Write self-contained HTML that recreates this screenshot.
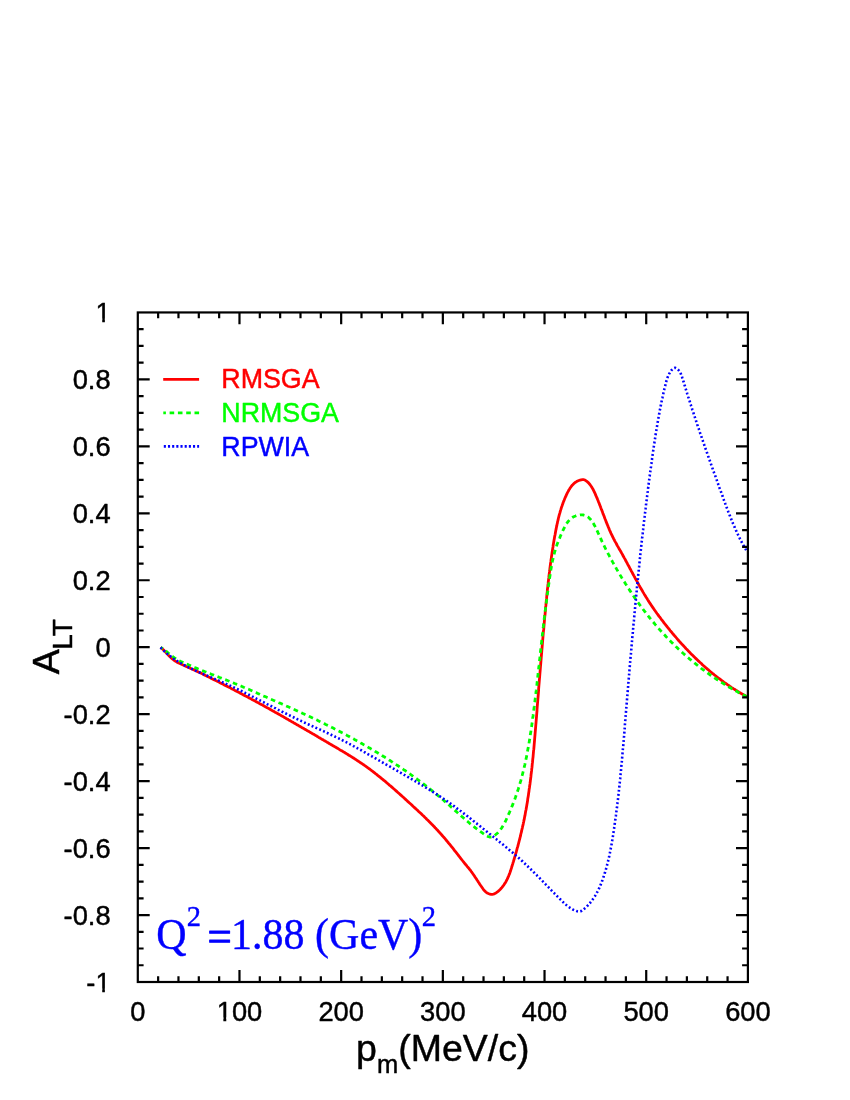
<!DOCTYPE html>
<html><head><meta charset="utf-8"><title>A_LT</title>
<style>
html,body{margin:0;padding:0;background:#fff;}
svg{display:block;}
text{font-family:"Liberation Sans",sans-serif;fill:#000;stroke:#000;stroke-width:0.45px;stroke-linejoin:round;}
.t{font-size:27.3px;}
.s{font-family:"Liberation Serif",serif;fill:#00f;stroke:#00f;stroke-width:0.4px;}
</style></head><body>
<svg width="850" height="1100" viewBox="0 0 850 1100" style="will-change:transform">
<g fill="none" stroke-width="2.8" stroke-linejoin="round">
<path stroke="#ff0000" d="M160.6 647.4L161.5 648.1L162.4 648.9L163.3 649.7L164.1 650.5L165.0 651.4L165.8 652.3L166.6 653.2L167.5 654.1L168.3 655.0L169.2 655.9L170.0 656.7L170.9 657.6L171.8 658.4L172.7 659.2L173.7 660.0L174.6 660.6L175.6 661.3L176.6 661.9L177.7 662.5L178.7 663.1L179.8 663.6L180.9 664.1L182.0 664.6L183.1 665.1L184.2 665.6L185.3 666.1L186.4 666.5L187.5 667.0L188.6 667.5L189.7 668.0L190.8 668.5L191.9 669.0L193.0 669.5L194.1 670.0L195.2 670.5L196.3 671.0L197.3 671.5L198.4 672.1L199.5 672.6L200.6 673.1L201.7 673.6L202.8 674.1L203.8 674.7L204.9 675.2L206.0 675.7L207.1 676.2L208.1 676.8L209.2 677.3L210.3 677.8L211.4 678.4L212.5 678.9L213.5 679.4L214.6 680.0L215.7 680.5L216.8 681.0L217.8 681.6L218.9 682.1L220.0 682.7L221.0 683.2L222.1 683.8L223.2 684.3L224.3 684.9L225.3 685.4L226.4 685.9L227.5 686.5L228.5 687.0L229.6 687.6L230.7 688.1L231.7 688.7L232.8 689.3L233.9 689.8L234.9 690.4L236.0 690.9L237.1 691.5L238.1 692.0L239.2 692.6L240.3 693.2L241.3 693.7L242.4 694.3L243.5 694.9L244.5 695.4L245.6 696.0L246.6 696.5L247.7 697.1L248.8 697.7L249.8 698.3L250.9 698.8L251.9 699.4L253.0 700.0L254.1 700.5L255.1 701.1L256.2 701.7L257.2 702.3L258.3 702.8L259.3 703.4L260.4 704.0L261.4 704.6L262.5 705.1L263.6 705.7L264.6 706.3L265.7 706.9L266.7 707.5L267.8 708.1L268.8 708.6L269.9 709.2L270.9 709.8L272.0 710.4L273.0 711.0L274.1 711.6L275.1 712.2L276.2 712.7L277.2 713.3L278.3 713.9L279.3 714.5L280.4 715.1L281.4 715.7L282.5 716.3L283.5 716.9L284.5 717.5L285.6 718.1L286.6 718.7L287.7 719.3L288.7 719.9L289.8 720.5L290.8 721.1L291.8 721.7L292.9 722.3L293.9 722.9L295.0 723.5L296.0 724.1L297.0 724.7L298.1 725.3L299.1 725.9L300.2 726.5L301.2 727.1L302.2 727.7L303.3 728.3L304.3 728.9L305.4 729.5L306.4 730.1L307.4 730.7L308.5 731.3L309.5 731.9L310.5 732.5L311.6 733.1L312.6 733.7L313.7 734.3L314.7 734.9L315.7 735.5L316.8 736.1L317.8 736.8L318.8 737.4L319.9 738.0L320.9 738.6L321.9 739.2L323.0 739.8L324.0 740.4L325.1 741.0L326.1 741.6L327.1 742.2L328.2 742.8L329.2 743.5L330.2 744.1L331.3 744.7L332.3 745.3L333.4 745.9L334.4 746.5L335.4 747.1L336.5 747.7L337.5 748.3L338.5 748.9L339.6 749.6L340.6 750.2L341.7 750.8L342.7 751.4L343.7 752.0L344.8 752.6L345.8 753.3L346.8 753.9L347.8 754.5L348.9 755.2L349.9 755.8L350.9 756.4L351.9 757.1L353.0 757.7L354.0 758.3L355.0 759.0L356.0 759.6L357.0 760.3L358.0 761.0L359.0 761.6L360.0 762.3L361.0 763.0L362.0 763.6L363.0 764.3L364.0 765.0L364.9 765.7L365.9 766.4L366.9 767.1L367.9 767.8L368.8 768.5L369.8 769.2L370.8 770.0L371.7 770.7L372.7 771.4L373.6 772.1L374.6 772.9L375.5 773.6L376.5 774.3L377.4 775.1L378.3 775.8L379.3 776.6L380.2 777.3L381.1 778.1L382.1 778.9L383.0 779.6L383.9 780.4L384.9 781.2L385.8 781.9L386.7 782.7L387.6 783.5L388.5 784.3L389.4 785.1L390.4 785.8L391.3 786.6L392.2 787.4L393.1 788.2L394.0 789.0L394.9 789.8L395.8 790.6L396.7 791.4L397.6 792.2L398.5 793.0L399.4 793.8L400.3 794.6L401.2 795.4L402.1 796.2L403.0 797.0L403.9 797.8L404.7 798.6L405.6 799.4L406.5 800.2L407.4 801.1L408.3 801.9L409.2 802.7L410.1 803.5L411.0 804.3L411.9 805.1L412.7 805.9L413.6 806.8L414.5 807.6L415.4 808.4L416.3 809.2L417.2 810.0L418.0 810.8L418.9 811.7L419.8 812.5L420.7 813.3L421.5 814.1L422.4 815.0L423.3 815.8L424.1 816.6L425.0 817.5L425.9 818.3L426.7 819.2L427.6 820.0L428.4 820.8L429.3 821.7L430.1 822.5L431.0 823.4L431.8 824.3L432.6 825.1L433.5 826.0L434.3 826.8L435.1 827.7L436.0 828.6L436.8 829.5L437.6 830.3L438.4 831.2L439.2 832.1L440.0 833.0L440.8 833.9L441.6 834.8L442.4 835.7L443.2 836.6L444.0 837.5L444.8 838.4L445.6 839.4L446.3 840.3L447.1 841.2L447.9 842.1L448.6 843.1L449.4 844.0L450.2 844.9L450.9 845.8L451.7 846.8L452.4 847.7L453.2 848.7L453.9 849.6L454.6 850.6L455.4 851.5L456.1 852.4L456.9 853.4L457.6 854.3L458.3 855.3L459.1 856.2L459.8 857.2L460.5 858.1L461.3 859.1L462.0 860.0L462.8 861.0L463.5 861.9L464.3 862.9L465.0 863.8L465.8 864.7L466.6 865.7L467.3 866.6L468.1 867.5L468.9 868.4L469.6 869.4L470.4 870.3L471.1 871.3L471.8 872.2L472.5 873.2L473.2 874.2L473.9 875.2L474.6 876.2L475.2 877.2L475.9 878.2L476.6 879.2L477.2 880.2L477.9 881.2L478.5 882.2L479.2 883.2L479.8 884.2L480.5 885.3L481.2 886.3L481.9 887.3L482.6 888.3L483.3 889.3L484.0 890.2L484.9 891.1L485.8 892.0L486.7 892.7L487.8 893.3L488.9 893.8L490.0 894.2L491.1 894.4L492.2 894.3L493.3 894.1L494.3 893.8L495.4 893.2L496.4 892.6L497.4 891.9L498.4 891.1L499.3 890.3L500.2 889.4L501.0 888.5L501.8 887.6L502.6 886.6L503.3 885.7L504.0 884.7L504.7 883.6L505.4 882.6L506.0 881.6L506.5 880.5L507.1 879.4L507.6 878.3L508.1 877.2L508.6 876.1L509.0 875.0L509.5 873.9L509.9 872.8L510.3 871.6L510.7 870.5L511.0 869.4L511.4 868.2L511.7 867.1L512.1 866.0L512.4 864.8L512.8 863.7L513.1 862.5L513.5 861.4L513.8 860.2L514.2 859.1L514.5 857.9L514.8 856.8L515.2 855.6L515.5 854.5L515.8 853.3L516.2 852.2L516.5 851.0L516.8 849.8L517.1 848.7L517.4 847.5L517.8 846.4L518.1 845.2L518.4 844.0L518.7 842.9L519.0 841.7L519.3 840.5L519.6 839.4L519.9 838.2L520.2 837.0L520.5 835.9L520.7 834.7L521.0 833.5L521.3 832.3L521.6 831.2L521.8 830.0L522.1 828.8L522.4 827.6L522.6 826.5L522.9 825.3L523.2 824.1L523.4 822.9L523.7 821.8L523.9 820.6L524.2 819.4L524.4 818.2L524.6 817.0L524.9 815.9L525.1 814.7L525.3 813.5L525.5 812.3L525.7 811.1L526.0 810.0L526.2 808.8L526.4 807.6L526.6 806.4L526.8 805.2L527.0 804.0L527.2 802.9L527.4 801.7L527.6 800.5L527.7 799.3L527.9 798.1L528.1 796.9L528.3 795.7L528.5 794.6L528.6 793.4L528.8 792.2L529.0 791.0L529.1 789.8L529.3 788.6L529.5 787.4L529.6 786.2L529.8 785.0L530.0 783.9L530.1 782.7L530.3 781.5L530.4 780.3L530.6 779.1L530.7 777.9L530.9 776.7L531.0 775.5L531.1 774.3L531.3 773.1L531.4 771.9L531.6 770.7L531.7 769.5L531.8 768.4L532.0 767.2L532.1 766.0L532.2 764.8L532.3 763.6L532.5 762.4L532.6 761.2L532.7 760.0L532.8 758.8L533.0 757.6L533.1 756.4L533.2 755.2L533.3 754.0L533.4 752.8L533.5 751.6L533.6 750.4L533.8 749.2L533.9 748.0L534.0 746.8L534.1 745.6L534.2 744.4L534.3 743.2L534.4 742.0L534.5 740.8L534.6 739.6L534.7 738.4L534.8 737.2L534.9 736.0L535.0 734.8L535.1 733.6L535.2 732.4L535.3 731.2L535.4 730.0L535.5 728.8L535.6 727.6L535.7 726.4L535.8 725.2L535.9 724.0L536.0 722.8L536.1 721.6L536.2 720.4L536.3 719.2L536.4 718.0L536.5 716.8L536.6 715.6L536.7 714.4L536.8 713.2L536.9 712.0L537.0 710.8L537.0 709.6L537.1 708.4L537.2 707.2L537.3 706.0L537.4 704.8L537.5 703.6L537.6 702.4L537.7 701.2L537.8 700.0L537.9 698.8L538.0 697.6L538.1 696.5L538.2 695.3L538.3 694.1L538.4 692.9L538.5 691.7L538.6 690.5L538.6 689.3L538.7 688.1L538.8 686.9L538.9 685.7L539.0 684.5L539.1 683.3L539.2 682.1L539.3 680.9L539.4 679.7L539.5 678.5L539.6 677.3L539.7 676.1L539.8 674.9L539.9 673.7L540.0 672.5L540.1 671.3L540.2 670.1L540.3 668.9L540.4 667.7L540.5 666.5L540.6 665.3L540.7 664.1L540.8 662.9L540.9 661.7L541.0 660.5L541.1 659.3L541.2 658.1L541.3 656.9L541.4 655.7L541.5 654.5L541.6 653.3L541.7 652.1L541.8 650.9L541.9 649.7L542.0 648.6L542.1 647.4L542.2 646.2L542.3 645.0L542.4 643.8L542.5 642.6L542.6 641.4L542.7 640.2L542.8 639.0L542.9 637.8L543.0 636.6L543.1 635.4L543.2 634.2L543.3 633.0L543.4 631.8L543.5 630.6L543.7 629.4L543.8 628.2L543.9 627.0L544.0 625.8L544.1 624.6L544.2 623.4L544.3 622.2L544.4 621.0L544.5 619.8L544.6 618.6L544.7 617.4L544.8 616.2L545.0 615.0L545.1 613.8L545.2 612.6L545.3 611.4L545.4 610.2L545.5 609.0L545.6 607.8L545.7 606.6L545.9 605.4L546.0 604.2L546.1 603.0L546.2 601.8L546.3 600.6L546.4 599.4L546.6 598.2L546.7 597.0L546.8 595.8L546.9 594.6L547.0 593.4L547.2 592.3L547.3 591.1L547.4 589.9L547.5 588.7L547.7 587.5L547.8 586.3L547.9 585.1L548.1 583.9L548.2 582.7L548.3 581.5L548.5 580.3L548.6 579.1L548.8 577.9L548.9 576.7L549.0 575.5L549.2 574.3L549.3 573.1L549.5 571.9L549.6 570.7L549.8 569.5L549.9 568.3L550.1 567.1L550.2 566.0L550.4 564.8L550.5 563.6L550.7 562.4L550.9 561.2L551.0 560.0L551.2 558.8L551.4 557.6L551.5 556.4L551.7 555.2L551.9 554.1L552.0 552.9L552.2 551.7L552.4 550.5L552.6 549.3L552.8 548.1L553.0 546.9L553.1 545.8L553.3 544.6L553.5 543.4L553.7 542.2L553.9 541.0L554.1 539.8L554.3 538.7L554.5 537.5L554.7 536.3L555.0 535.1L555.2 533.9L555.4 532.8L555.6 531.6L555.8 530.4L556.1 529.2L556.3 528.1L556.5 526.9L556.8 525.7L557.0 524.5L557.3 523.4L557.5 522.2L557.8 521.0L558.1 519.9L558.3 518.7L558.6 517.5L558.9 516.4L559.2 515.2L559.5 514.1L559.9 512.9L560.2 511.7L560.5 510.6L560.9 509.4L561.2 508.3L561.6 507.1L562.0 506.0L562.4 504.8L562.8 503.7L563.2 502.6L563.6 501.4L564.1 500.3L564.5 499.2L565.0 498.0L565.5 496.9L566.0 495.8L566.5 494.7L567.0 493.6L567.6 492.4L568.2 491.4L568.7 490.3L569.4 489.2L570.0 488.2L570.7 487.2L571.4 486.2L572.2 485.3L573.0 484.5L573.8 483.6L574.7 482.9L575.6 482.2L576.6 481.6L577.7 481.0L578.8 480.5L580.0 480.2L581.2 479.9L582.4 479.7L583.6 479.7L584.8 480.0L585.8 480.6L586.8 481.3L587.7 482.1L588.6 482.9L589.3 483.8L590.1 484.7L590.8 485.7L591.5 486.7L592.1 487.7L592.7 488.8L593.3 489.8L593.8 490.9L594.3 492.0L594.9 493.1L595.4 494.3L595.8 495.4L596.3 496.5L596.8 497.6L597.3 498.7L597.7 499.8L598.2 501.0L598.6 502.1L599.1 503.2L599.5 504.3L599.9 505.4L600.4 506.5L600.8 507.7L601.2 508.8L601.7 509.9L602.1 511.0L602.5 512.1L602.9 513.3L603.3 514.4L603.8 515.5L604.2 516.6L604.6 517.7L605.0 518.8L605.5 520.0L605.9 521.1L606.3 522.2L606.8 523.3L607.2 524.4L607.7 525.5L608.1 526.6L608.6 527.7L609.1 528.9L609.5 530.0L610.0 531.1L610.5 532.2L611.0 533.3L611.5 534.3L612.0 535.4L612.5 536.5L613.1 537.6L613.6 538.7L614.2 539.7L614.7 540.8L615.3 541.9L615.9 542.9L616.5 544.0L617.0 545.0L617.6 546.1L618.2 547.1L618.8 548.2L619.4 549.2L620.0 550.2L620.6 551.3L621.2 552.3L621.8 553.4L622.4 554.4L622.9 555.5L623.5 556.5L624.1 557.6L624.7 558.6L625.3 559.7L625.8 560.8L626.4 561.8L627.0 562.9L627.5 563.9L628.1 565.0L628.7 566.0L629.3 567.1L629.8 568.2L630.4 569.2L631.0 570.3L631.5 571.3L632.1 572.4L632.7 573.5L633.2 574.5L633.8 575.6L634.4 576.6L634.9 577.7L635.5 578.8L636.1 579.8L636.7 580.9L637.3 581.9L637.8 583.0L638.4 584.0L639.0 585.1L639.6 586.1L640.2 587.2L640.8 588.2L641.4 589.3L642.0 590.3L642.6 591.3L643.2 592.4L643.8 593.4L644.4 594.4L645.1 595.5L645.7 596.5L646.3 597.5L647.0 598.5L647.6 599.6L648.2 600.6L648.9 601.6L649.5 602.6L650.2 603.6L650.9 604.6L651.5 605.6L652.2 606.6L652.9 607.6L653.6 608.6L654.2 609.6L654.9 610.5L655.6 611.5L656.3 612.5L657.0 613.5L657.7 614.4L658.4 615.4L659.1 616.4L659.9 617.3L660.6 618.3L661.3 619.3L662.0 620.2L662.8 621.2L663.5 622.1L664.2 623.1L665.0 624.0L665.7 625.0L666.5 625.9L667.2 626.9L668.0 627.8L668.7 628.7L669.5 629.7L670.2 630.6L671.0 631.5L671.8 632.4L672.5 633.4L673.3 634.3L674.1 635.2L674.9 636.1L675.7 637.0L676.5 638.0L677.2 638.9L678.0 639.8L678.8 640.7L679.6 641.6L680.4 642.5L681.2 643.4L682.0 644.3L682.9 645.1L683.7 646.0L684.5 646.9L685.3 647.8L686.1 648.7L687.0 649.5L687.8 650.4L688.6 651.3L689.5 652.1L690.3 653.0L691.2 653.9L692.0 654.7L692.9 655.6L693.7 656.4L694.6 657.2L695.4 658.1L696.3 658.9L697.2 659.7L698.0 660.6L698.9 661.4L699.8 662.2L700.7 663.0L701.6 663.8L702.4 664.7L703.3 665.5L704.2 666.3L705.1 667.1L706.0 667.9L706.9 668.6L707.8 669.4L708.8 670.2L709.7 671.0L710.6 671.8L711.5 672.5L712.4 673.3L713.4 674.0L714.3 674.8L715.2 675.5L716.2 676.3L717.1 677.0L718.1 677.8L719.0 678.5L720.0 679.2L720.9 679.9L721.9 680.7L722.9 681.4L723.8 682.1L724.8 682.8L725.8 683.5L726.8 684.2L727.8 684.9L728.8 685.5L729.7 686.2L730.7 686.9L731.7 687.6L732.7 688.2L733.8 688.9L734.8 689.5L735.8 690.2L736.8 690.8L737.8 691.4L738.8 692.1L739.9 692.7L740.9 693.3L742.0 693.9L743.0 694.5L744.0 695.1L745.1 695.7L746.1 696.3L747.2 696.9"/>
<path stroke="#00ff00" stroke-dasharray="4.6 3.7" stroke-dashoffset="2" d="M160.6 647.4L161.6 648.0L162.6 648.6L163.6 649.3L164.6 650.0L165.5 650.8L166.5 651.5L167.4 652.3L168.3 653.1L169.3 653.9L170.2 654.7L171.2 655.4L172.1 656.2L173.1 656.9L174.1 657.6L175.1 658.3L176.1 658.9L177.1 659.5L178.2 660.1L179.2 660.6L180.3 661.2L181.4 661.7L182.5 662.2L183.5 662.7L184.6 663.2L185.7 663.6L186.8 664.1L187.9 664.6L189.0 665.1L190.1 665.5L191.2 666.0L192.3 666.5L193.4 666.9L194.6 667.4L195.7 667.9L196.8 668.3L197.9 668.8L199.0 669.2L200.1 669.7L201.2 670.1L202.3 670.6L203.4 671.0L204.6 671.5L205.7 671.9L206.8 672.4L207.9 672.8L209.0 673.3L210.2 673.7L211.3 674.2L212.4 674.6L213.5 675.0L214.6 675.5L215.7 675.9L216.9 676.4L218.0 676.8L219.1 677.3L220.2 677.7L221.3 678.1L222.5 678.6L223.6 679.0L224.7 679.5L225.8 679.9L226.9 680.3L228.1 680.8L229.2 681.2L230.3 681.7L231.4 682.1L232.5 682.6L233.6 683.0L234.7 683.5L235.9 683.9L237.0 684.4L238.1 684.8L239.2 685.3L240.3 685.8L241.4 686.2L242.5 686.7L243.6 687.2L244.7 687.6L245.8 688.1L246.9 688.6L248.0 689.1L249.1 689.5L250.2 690.0L251.3 690.5L252.4 691.0L253.5 691.5L254.6 692.0L255.7 692.5L256.8 692.9L257.9 693.4L259.0 693.9L260.1 694.4L261.2 694.9L262.3 695.4L263.4 695.9L264.5 696.4L265.6 696.8L266.7 697.3L267.8 697.8L268.9 698.3L270.0 698.8L271.1 699.3L272.2 699.8L273.3 700.2L274.4 700.7L275.5 701.2L276.6 701.7L277.7 702.2L278.8 702.7L279.9 703.1L281.0 703.6L282.1 704.1L283.2 704.6L284.3 705.1L285.4 705.6L286.5 706.1L287.6 706.5L288.7 707.0L289.8 707.5L290.9 708.0L292.0 708.5L293.1 709.0L294.2 709.5L295.3 710.0L296.4 710.5L297.5 711.0L298.6 711.5L299.7 712.0L300.8 712.5L301.9 713.0L302.9 713.5L304.0 714.0L305.1 714.5L306.2 715.0L307.3 715.5L308.4 716.0L309.5 716.5L310.6 717.0L311.7 717.6L312.7 718.1L313.8 718.6L314.9 719.1L316.0 719.6L317.1 720.1L318.2 720.7L319.2 721.2L320.3 721.7L321.4 722.2L322.5 722.8L323.5 723.3L324.6 723.8L325.7 724.4L326.8 724.9L327.9 725.4L328.9 726.0L330.0 726.5L331.1 727.1L332.1 727.6L333.2 728.1L334.3 728.7L335.3 729.2L336.4 729.8L337.5 730.3L338.5 730.9L339.6 731.4L340.7 732.0L341.7 732.6L342.8 733.1L343.9 733.7L344.9 734.2L346.0 734.8L347.0 735.4L348.1 735.9L349.2 736.5L350.2 737.1L351.3 737.7L352.3 738.2L353.4 738.8L354.4 739.4L355.5 740.0L356.5 740.6L357.6 741.1L358.6 741.7L359.7 742.3L360.7 742.9L361.8 743.5L362.8 744.1L363.8 744.7L364.9 745.3L365.9 745.9L367.0 746.5L368.0 747.1L369.0 747.7L370.1 748.3L371.1 748.9L372.2 749.5L373.2 750.1L374.2 750.8L375.2 751.4L376.3 752.0L377.3 752.6L378.3 753.2L379.4 753.9L380.4 754.5L381.4 755.1L382.4 755.8L383.5 756.4L384.5 757.0L385.5 757.7L386.5 758.3L387.5 759.0L388.6 759.6L389.6 760.3L390.6 760.9L391.6 761.6L392.6 762.2L393.6 762.9L394.6 763.5L395.6 764.2L396.6 764.9L397.6 765.5L398.6 766.2L399.6 766.9L400.6 767.5L401.6 768.2L402.6 768.9L403.6 769.6L404.6 770.2L405.6 770.9L406.6 771.6L407.6 772.3L408.6 773.0L409.5 773.7L410.5 774.4L411.5 775.1L412.5 775.8L413.5 776.5L414.4 777.2L415.4 777.9L416.4 778.6L417.3 779.3L418.3 780.0L419.3 780.8L420.2 781.5L421.2 782.2L422.2 782.9L423.1 783.7L424.1 784.4L425.0 785.1L426.0 785.8L426.9 786.6L427.9 787.3L428.8 788.1L429.7 788.8L430.7 789.6L431.6 790.3L432.6 791.1L433.5 791.8L434.4 792.6L435.3 793.3L436.3 794.1L437.2 794.9L438.1 795.6L439.0 796.4L440.0 797.2L440.9 797.9L441.8 798.7L442.7 799.5L443.6 800.3L444.5 801.1L445.4 801.9L446.3 802.7L447.2 803.4L448.1 804.2L449.0 805.0L449.9 805.8L450.8 806.6L451.7 807.4L452.6 808.2L453.5 809.0L454.3 809.8L455.2 810.6L456.1 811.4L457.0 812.2L457.9 813.0L458.8 813.8L459.7 814.6L460.6 815.4L461.5 816.2L462.4 817.0L463.3 817.8L464.2 818.6L465.1 819.4L466.0 820.2L467.0 821.0L467.9 821.7L468.8 822.5L469.7 823.3L470.7 824.1L471.6 824.8L472.6 825.6L473.5 826.4L474.5 827.1L475.4 827.9L476.4 828.6L477.4 829.3L478.3 830.1L479.3 830.8L480.3 831.5L481.3 832.2L482.3 832.9L483.3 833.6L484.3 834.3L485.4 835.0L486.4 835.7L487.4 836.2L488.5 836.7L489.5 837.0L490.6 837.1L491.6 837.0L492.6 836.6L493.6 836.1L494.6 835.5L495.5 834.8L496.4 834.0L497.3 833.2L498.1 832.4L498.9 831.5L499.7 830.6L500.4 829.7L501.1 828.7L501.8 827.7L502.4 826.7L503.1 825.6L503.7 824.6L504.3 823.5L504.9 822.4L505.4 821.3L506.0 820.1L506.5 819.0L507.0 817.9L507.5 816.8L508.0 815.6L508.5 814.5L509.0 813.4L509.5 812.3L510.0 811.1L510.5 810.0L511.0 808.9L511.4 807.8L511.9 806.7L512.3 805.6L512.8 804.4L513.2 803.3L513.6 802.2L514.1 801.1L514.5 800.0L514.9 798.9L515.3 797.8L515.7 796.6L516.1 795.5L516.5 794.4L516.9 793.3L517.3 792.1L517.7 791.0L518.0 789.9L518.4 788.7L518.7 787.6L519.1 786.5L519.4 785.3L519.8 784.2L520.1 783.0L520.4 781.9L520.8 780.7L521.1 779.6L521.4 778.4L521.7 777.3L522.0 776.1L522.3 775.0L522.6 773.8L522.9 772.6L523.2 771.5L523.5 770.3L523.8 769.1L524.1 768.0L524.3 766.8L524.6 765.6L524.9 764.5L525.1 763.3L525.4 762.1L525.6 760.9L525.9 759.8L526.1 758.6L526.4 757.4L526.6 756.2L526.8 755.0L527.1 753.8L527.3 752.7L527.5 751.5L527.7 750.3L527.9 749.1L528.2 747.9L528.4 746.7L528.6 745.5L528.8 744.4L529.0 743.2L529.2 742.0L529.4 740.8L529.6 739.6L529.8 738.4L530.0 737.2L530.2 736.0L530.3 734.8L530.5 733.6L530.7 732.4L530.9 731.3L531.1 730.1L531.2 728.9L531.4 727.7L531.6 726.5L531.8 725.3L531.9 724.1L532.1 722.9L532.3 721.7L532.4 720.5L532.6 719.3L532.7 718.1L532.9 716.9L533.1 715.7L533.2 714.6L533.4 713.4L533.5 712.2L533.7 711.0L533.8 709.8L534.0 708.6L534.1 707.4L534.3 706.2L534.4 705.0L534.6 703.8L534.7 702.6L534.9 701.5L535.0 700.3L535.2 699.1L535.3 697.9L535.5 696.7L535.6 695.5L535.7 694.3L535.9 693.1L536.0 691.9L536.2 690.7L536.3 689.5L536.4 688.4L536.6 687.2L536.7 686.0L536.9 684.8L537.0 683.6L537.1 682.4L537.3 681.2L537.4 680.0L537.5 678.8L537.7 677.6L537.8 676.4L537.9 675.2L538.1 674.1L538.2 672.9L538.3 671.7L538.4 670.5L538.6 669.3L538.7 668.1L538.8 666.9L539.0 665.7L539.1 664.5L539.2 663.3L539.4 662.1L539.5 660.9L539.6 659.7L539.8 658.5L539.9 657.3L540.0 656.1L540.1 654.9L540.3 653.7L540.4 652.5L540.5 651.3L540.7 650.1L540.8 649.0L540.9 647.8L541.1 646.6L541.2 645.4L541.3 644.2L541.5 643.0L541.6 641.8L541.7 640.6L541.9 639.4L542.0 638.2L542.1 637.0L542.3 635.8L542.4 634.6L542.5 633.4L542.7 632.2L542.8 631.0L542.9 629.8L543.1 628.6L543.2 627.4L543.4 626.2L543.5 625.0L543.6 623.8L543.8 622.6L543.9 621.5L544.1 620.3L544.2 619.1L544.3 617.9L544.5 616.7L544.6 615.5L544.8 614.3L544.9 613.1L545.1 611.9L545.2 610.7L545.4 609.5L545.5 608.3L545.7 607.2L545.8 606.0L546.0 604.8L546.1 603.6L546.3 602.4L546.5 601.2L546.6 600.0L546.8 598.8L546.9 597.6L547.1 596.5L547.2 595.3L547.4 594.1L547.6 592.9L547.7 591.7L547.9 590.5L548.1 589.3L548.2 588.1L548.4 586.9L548.5 585.7L548.7 584.6L548.9 583.4L549.0 582.2L549.2 581.0L549.4 579.8L549.5 578.6L549.7 577.4L549.9 576.2L550.1 575.0L550.2 573.8L550.4 572.6L550.6 571.4L550.8 570.2L551.0 569.0L551.2 567.9L551.4 566.7L551.6 565.5L551.8 564.3L552.1 563.1L552.3 561.9L552.5 560.8L552.8 559.6L553.1 558.4L553.3 557.2L553.6 556.1L553.9 554.9L554.2 553.8L554.5 552.6L554.8 551.5L555.2 550.3L555.5 549.2L555.9 548.0L556.2 546.9L556.6 545.8L557.0 544.6L557.4 543.5L557.9 542.4L558.3 541.3L558.7 540.2L559.2 539.1L559.7 538.0L560.1 536.8L560.6 535.7L561.1 534.6L561.6 533.5L562.1 532.4L562.6 531.3L563.1 530.2L563.6 529.1L564.2 528.0L564.7 526.9L565.3 525.8L565.9 524.8L566.5 523.7L567.2 522.7L567.9 521.8L568.7 520.9L569.5 520.0L570.3 519.1L571.2 518.4L572.2 517.7L573.2 517.0L574.3 516.5L575.5 516.0L576.6 515.5L577.8 515.2L579.0 515.0L580.2 514.8L581.3 514.8L582.5 514.8L583.6 515.0L584.7 515.3L585.8 515.7L586.8 516.2L587.8 516.8L588.7 517.5L589.6 518.4L590.4 519.2L591.2 520.2L592.0 521.2L592.7 522.3L593.4 523.4L594.0 524.5L594.6 525.6L595.2 526.7L595.8 527.8L596.3 528.9L596.8 530.0L597.3 531.1L597.8 532.2L598.3 533.3L598.8 534.3L599.3 535.4L599.7 536.5L600.2 537.6L600.7 538.6L601.2 539.7L601.7 540.8L602.2 541.9L602.7 542.9L603.3 544.0L603.8 545.1L604.3 546.1L604.8 547.2L605.4 548.3L605.9 549.3L606.5 550.4L607.0 551.5L607.6 552.5L608.1 553.6L608.7 554.7L609.2 555.7L609.8 556.8L610.4 557.8L610.9 558.9L611.5 560.0L612.1 561.0L612.7 562.1L613.3 563.1L613.8 564.2L614.4 565.2L615.0 566.3L615.6 567.3L616.2 568.3L616.8 569.4L617.4 570.4L618.0 571.5L618.6 572.5L619.3 573.5L619.9 574.6L620.5 575.6L621.1 576.6L621.7 577.7L622.4 578.7L623.0 579.7L623.6 580.8L624.3 581.8L624.9 582.8L625.5 583.8L626.2 584.8L626.8 585.8L627.5 586.9L628.1 587.9L628.8 588.9L629.4 589.9L630.1 590.9L630.8 591.9L631.4 592.9L632.1 593.9L632.8 594.9L633.5 595.9L634.1 596.9L634.8 597.9L635.5 598.8L636.2 599.8L636.9 600.8L637.6 601.8L638.3 602.8L639.0 603.8L639.7 604.7L640.4 605.7L641.1 606.7L641.8 607.6L642.6 608.6L643.3 609.6L644.0 610.5L644.7 611.5L645.5 612.4L646.2 613.4L647.0 614.3L647.7 615.3L648.4 616.2L649.2 617.1L649.9 618.1L650.7 619.0L651.5 620.0L652.2 620.9L653.0 621.8L653.8 622.7L654.5 623.6L655.3 624.6L656.1 625.5L656.9 626.4L657.6 627.3L658.4 628.2L659.2 629.1L660.0 630.0L660.8 630.9L661.6 631.8L662.4 632.7L663.2 633.6L664.1 634.5L664.9 635.3L665.7 636.2L666.5 637.1L667.3 638.0L668.2 638.8L669.0 639.7L669.8 640.5L670.7 641.4L671.5 642.3L672.4 643.1L673.2 643.9L674.1 644.8L675.0 645.6L675.8 646.5L676.7 647.3L677.6 648.1L678.4 649.0L679.3 649.8L680.2 650.6L681.1 651.4L682.0 652.2L682.8 653.0L683.7 653.8L684.6 654.6L685.5 655.4L686.4 656.2L687.3 657.0L688.3 657.8L689.2 658.6L690.1 659.3L691.0 660.1L691.9 660.9L692.9 661.7L693.8 662.4L694.7 663.2L695.7 663.9L696.6 664.7L697.5 665.4L698.5 666.2L699.4 666.9L700.4 667.6L701.3 668.4L702.3 669.1L703.3 669.8L704.2 670.5L705.2 671.3L706.2 672.0L707.1 672.7L708.1 673.4L709.1 674.1L710.1 674.8L711.1 675.5L712.0 676.1L713.0 676.8L714.0 677.5L715.0 678.2L716.0 678.8L717.0 679.5L718.0 680.2L719.0 680.8L720.0 681.5L721.1 682.1L722.1 682.8L723.1 683.4L724.1 684.0L725.1 684.7L726.2 685.3L727.2 685.9L728.2 686.5L729.3 687.2L730.3 687.8L731.3 688.4L732.4 689.0L733.4 689.6L734.5 690.2L735.5 690.7L736.6 691.3L737.6 691.9L738.7 692.5L739.7 693.0L740.8 693.6L741.8 694.2L742.9 694.7L744.0 695.3L745.1 695.8L746.1 696.4L747.2 696.9"/>
<path stroke="#0000ff" stroke-width="2.6" stroke-dasharray="1.9 2.27" d="M160.6 647.4L161.4 648.3L162.3 649.2L163.1 650.0L164.0 650.9L164.9 651.7L165.8 652.5L166.7 653.3L167.6 654.1L168.5 654.9L169.4 655.6L170.4 656.3L171.3 657.1L172.3 657.8L173.3 658.5L174.3 659.1L175.3 659.8L176.3 660.5L177.3 661.1L178.3 661.7L179.3 662.3L180.4 662.9L181.4 663.5L182.4 664.1L183.5 664.7L184.5 665.3L185.6 665.8L186.7 666.4L187.7 666.9L188.8 667.5L189.9 668.0L190.9 668.5L192.0 669.0L193.1 669.5L194.2 670.0L195.3 670.5L196.4 671.0L197.5 671.5L198.6 672.0L199.7 672.5L200.8 673.0L201.9 673.5L203.0 673.9L204.1 674.4L205.2 674.9L206.3 675.3L207.4 675.8L208.5 676.3L209.6 676.7L210.7 677.2L211.9 677.7L213.0 678.1L214.1 678.6L215.2 679.1L216.3 679.5L217.4 680.0L218.5 680.5L219.6 680.9L220.7 681.4L221.8 681.9L222.9 682.4L224.0 682.9L225.1 683.4L226.2 683.9L227.3 684.4L228.4 684.9L229.5 685.4L230.6 685.9L231.7 686.4L232.7 686.9L233.8 687.4L234.9 687.9L236.0 688.4L237.1 688.9L238.2 689.5L239.2 690.0L240.3 690.5L241.4 691.0L242.5 691.6L243.6 692.1L244.6 692.6L245.7 693.2L246.8 693.7L247.9 694.2L248.9 694.8L250.0 695.3L251.1 695.9L252.1 696.4L253.2 696.9L254.3 697.5L255.4 698.0L256.4 698.6L257.5 699.1L258.6 699.7L259.6 700.2L260.7 700.8L261.8 701.3L262.8 701.9L263.9 702.4L265.0 703.0L266.1 703.5L267.1 704.1L268.2 704.6L269.3 705.1L270.3 705.7L271.4 706.2L272.5 706.8L273.5 707.3L274.6 707.9L275.7 708.4L276.7 709.0L277.8 709.5L278.9 710.1L280.0 710.6L281.0 711.1L282.1 711.7L283.2 712.2L284.2 712.8L285.3 713.3L286.4 713.8L287.5 714.4L288.6 714.9L289.6 715.4L290.7 716.0L291.8 716.5L292.9 717.0L293.9 717.5L295.0 718.1L296.1 718.6L297.2 719.1L298.3 719.6L299.4 720.1L300.5 720.6L301.5 721.1L302.6 721.6L303.7 722.2L304.8 722.7L305.9 723.2L307.0 723.7L308.1 724.2L309.2 724.7L310.3 725.2L311.4 725.7L312.5 726.2L313.6 726.7L314.7 727.2L315.8 727.7L316.8 728.1L317.9 728.6L319.0 729.1L320.1 729.6L321.2 730.1L322.3 730.6L323.4 731.1L324.5 731.6L325.6 732.1L326.7 732.7L327.8 733.2L328.9 733.7L329.9 734.2L331.0 734.7L332.1 735.2L333.2 735.7L334.3 736.2L335.4 736.8L336.4 737.3L337.5 737.8L338.6 738.3L339.7 738.9L340.8 739.4L341.8 739.9L342.9 740.5L344.0 741.0L345.0 741.6L346.1 742.1L347.2 742.7L348.2 743.2L349.3 743.8L350.4 744.4L351.4 744.9L352.5 745.5L353.5 746.1L354.6 746.6L355.6 747.2L356.7 747.8L357.7 748.4L358.8 749.0L359.8 749.5L360.9 750.1L361.9 750.7L363.0 751.3L364.0 751.9L365.1 752.5L366.1 753.1L367.1 753.7L368.2 754.3L369.2 754.9L370.3 755.5L371.3 756.0L372.4 756.6L373.4 757.2L374.5 757.8L375.5 758.4L376.5 759.0L377.6 759.6L378.6 760.2L379.7 760.8L380.7 761.4L381.8 762.0L382.8 762.6L383.8 763.2L384.9 763.8L385.9 764.4L387.0 765.0L388.0 765.6L389.1 766.1L390.1 766.7L391.2 767.3L392.2 767.9L393.2 768.5L394.3 769.1L395.3 769.7L396.4 770.3L397.4 770.9L398.5 771.5L399.5 772.1L400.5 772.7L401.6 773.3L402.6 773.9L403.7 774.5L404.7 775.1L405.7 775.7L406.8 776.3L407.8 776.9L408.9 777.5L409.9 778.1L410.9 778.7L412.0 779.3L413.0 779.9L414.1 780.5L415.1 781.1L416.1 781.7L417.2 782.3L418.2 782.9L419.2 783.6L420.3 784.2L421.3 784.8L422.3 785.4L423.4 786.0L424.4 786.6L425.4 787.3L426.5 787.9L427.5 788.5L428.5 789.1L429.5 789.8L430.6 790.4L431.6 791.0L432.6 791.7L433.6 792.3L434.6 793.0L435.6 793.6L436.6 794.2L437.7 794.9L438.7 795.5L439.7 796.2L440.7 796.9L441.7 797.5L442.7 798.2L443.7 798.9L444.6 799.5L445.6 800.2L446.6 800.9L447.6 801.6L448.6 802.3L449.6 803.0L450.5 803.6L451.5 804.3L452.5 805.0L453.5 805.7L454.4 806.4L455.4 807.2L456.4 807.9L457.3 808.6L458.3 809.3L459.3 810.0L460.2 810.7L461.2 811.4L462.1 812.2L463.1 812.9L464.0 813.6L465.0 814.4L466.0 815.1L466.9 815.8L467.9 816.6L468.8 817.3L469.7 818.0L470.7 818.8L471.6 819.5L472.6 820.2L473.5 821.0L474.5 821.7L475.4 822.5L476.4 823.2L477.3 824.0L478.2 824.7L479.2 825.5L480.1 826.2L481.1 827.0L482.0 827.7L482.9 828.5L483.9 829.2L484.8 830.0L485.8 830.7L486.7 831.5L487.6 832.2L488.6 833.0L489.5 833.8L490.5 834.5L491.4 835.3L492.3 836.0L493.3 836.8L494.2 837.5L495.1 838.3L496.1 839.0L497.0 839.8L498.0 840.5L498.9 841.3L499.8 842.1L500.8 842.8L501.7 843.6L502.6 844.3L503.6 845.1L504.5 845.9L505.4 846.6L506.4 847.4L507.3 848.2L508.2 848.9L509.1 849.7L510.0 850.5L511.0 851.3L511.9 852.0L512.8 852.8L513.7 853.6L514.6 854.4L515.5 855.2L516.4 856.0L517.3 856.8L518.2 857.5L519.1 858.3L520.0 859.1L520.9 859.9L521.8 860.7L522.7 861.5L523.5 862.4L524.4 863.2L525.3 864.0L526.2 864.8L527.0 865.6L527.9 866.5L528.7 867.3L529.6 868.1L530.5 868.9L531.3 869.8L532.2 870.6L533.0 871.5L533.8 872.3L534.7 873.1L535.5 874.0L536.4 874.8L537.2 875.7L538.1 876.5L538.9 877.4L539.7 878.2L540.6 879.1L541.4 880.0L542.2 880.8L543.1 881.7L543.9 882.5L544.7 883.4L545.6 884.3L546.4 885.1L547.2 886.0L548.1 886.9L548.9 887.7L549.8 888.6L550.6 889.5L551.4 890.3L552.3 891.2L553.1 892.1L554.0 892.9L554.8 893.8L555.7 894.7L556.6 895.5L557.4 896.4L558.3 897.3L559.1 898.1L560.0 899.0L560.9 899.9L561.8 900.7L562.6 901.6L563.5 902.5L564.4 903.3L565.3 904.1L566.2 904.9L567.2 905.7L568.1 906.4L569.1 907.1L570.0 907.8L571.0 908.4L572.0 909.0L573.0 909.6L574.1 910.1L575.2 910.5L576.2 910.9L577.3 911.3L578.5 911.5L579.6 911.4L580.6 911.2L581.7 910.7L582.7 910.0L583.6 909.3L584.6 908.5L585.5 907.7L586.4 906.9L587.3 906.0L588.1 905.1L588.9 904.2L589.8 903.3L590.5 902.4L591.3 901.4L592.0 900.4L592.7 899.4L593.4 898.4L594.1 897.4L594.8 896.4L595.4 895.4L596.0 894.3L596.6 893.3L597.2 892.2L597.7 891.2L598.3 890.1L598.8 889.0L599.3 887.9L599.8 886.8L600.2 885.7L600.7 884.6L601.2 883.5L601.6 882.4L602.0 881.3L602.4 880.2L602.8 879.0L603.2 877.9L603.6 876.8L604.0 875.6L604.4 874.5L604.7 873.3L605.1 872.2L605.4 871.0L605.8 869.9L606.1 868.7L606.4 867.6L606.7 866.4L607.0 865.3L607.3 864.1L607.6 863.0L607.9 861.8L608.2 860.6L608.5 859.5L608.7 858.3L609.0 857.1L609.3 856.0L609.5 854.8L609.8 853.6L610.0 852.4L610.2 851.3L610.5 850.1L610.7 848.9L610.9 847.7L611.2 846.5L611.4 845.4L611.6 844.2L611.8 843.0L612.0 841.8L612.2 840.6L612.4 839.4L612.6 838.3L612.8 837.1L613.0 835.9L613.2 834.7L613.3 833.5L613.5 832.3L613.7 831.1L613.9 829.9L614.1 828.7L614.2 827.6L614.4 826.4L614.6 825.2L614.7 824.0L614.9 822.8L615.1 821.6L615.2 820.4L615.4 819.2L615.6 818.0L615.7 816.8L615.9 815.7L616.0 814.5L616.2 813.3L616.3 812.1L616.5 810.9L616.7 809.7L616.8 808.5L617.0 807.3L617.1 806.1L617.2 804.9L617.4 803.7L617.5 802.5L617.7 801.3L617.8 800.1L618.0 799.0L618.1 797.8L618.2 796.6L618.4 795.4L618.5 794.2L618.6 793.0L618.8 791.8L618.9 790.6L619.0 789.4L619.2 788.2L619.3 787.0L619.4 785.8L619.5 784.6L619.7 783.4L619.8 782.2L619.9 781.0L620.0 779.8L620.2 778.7L620.3 777.5L620.4 776.3L620.5 775.1L620.6 773.9L620.8 772.7L620.9 771.5L621.0 770.3L621.1 769.1L621.2 767.9L621.3 766.7L621.4 765.5L621.5 764.3L621.7 763.1L621.8 761.9L621.9 760.7L622.0 759.5L622.1 758.3L622.2 757.1L622.3 755.9L622.4 754.7L622.5 753.5L622.6 752.3L622.7 751.1L622.8 750.0L622.9 748.8L623.0 747.6L623.2 746.4L623.3 745.2L623.4 744.0L623.5 742.8L623.6 741.6L623.7 740.4L623.8 739.2L623.9 738.0L624.0 736.8L624.1 735.6L624.2 734.4L624.3 733.2L624.4 732.0L624.5 730.8L624.6 729.6L624.7 728.4L624.8 727.2L624.9 726.0L624.9 724.8L625.0 723.6L625.1 722.4L625.2 721.2L625.3 720.0L625.4 718.8L625.5 717.6L625.6 716.4L625.7 715.2L625.8 714.0L625.9 712.9L626.0 711.7L626.1 710.5L626.2 709.3L626.3 708.1L626.4 706.9L626.5 705.7L626.6 704.5L626.7 703.3L626.8 702.1L626.9 700.9L627.0 699.7L627.1 698.5L627.2 697.3L627.3 696.1L627.4 694.9L627.5 693.7L627.6 692.5L627.7 691.3L627.8 690.1L627.9 688.9L628.0 687.7L628.1 686.5L628.2 685.3L628.3 684.1L628.4 682.9L628.5 681.7L628.6 680.5L628.7 679.3L628.8 678.1L628.9 677.0L629.0 675.8L629.1 674.6L629.2 673.4L629.3 672.2L629.4 671.0L629.5 669.8L629.6 668.6L629.7 667.4L629.8 666.2L629.9 665.0L630.0 663.8L630.1 662.6L630.2 661.4L630.3 660.2L630.4 659.0L630.5 657.8L630.6 656.6L630.8 655.4L630.9 654.2L631.0 653.0L631.1 651.8L631.2 650.6L631.3 649.4L631.4 648.2L631.5 647.0L631.6 645.8L631.7 644.6L631.8 643.5L631.9 642.3L632.0 641.1L632.1 639.9L632.2 638.7L632.3 637.5L632.4 636.3L632.5 635.1L632.7 633.9L632.8 632.7L632.9 631.5L633.0 630.3L633.1 629.1L633.2 627.9L633.3 626.7L633.4 625.5L633.5 624.3L633.6 623.1L633.7 621.9L633.9 620.7L634.0 619.5L634.1 618.3L634.2 617.1L634.3 615.9L634.4 614.7L634.5 613.5L634.6 612.4L634.7 611.2L634.9 610.0L635.0 608.8L635.1 607.6L635.2 606.4L635.3 605.2L635.4 604.0L635.5 602.8L635.6 601.6L635.8 600.4L635.9 599.2L636.0 598.0L636.1 596.8L636.2 595.6L636.3 594.4L636.4 593.2L636.6 592.0L636.7 590.8L636.8 589.6L636.9 588.4L637.0 587.2L637.1 586.0L637.3 584.8L637.4 583.6L637.5 582.4L637.6 581.3L637.7 580.1L637.9 578.9L638.0 577.7L638.1 576.5L638.2 575.3L638.3 574.1L638.5 572.9L638.6 571.7L638.7 570.5L638.8 569.3L638.9 568.1L639.1 566.9L639.2 565.7L639.3 564.5L639.4 563.3L639.6 562.1L639.7 560.9L639.8 559.7L639.9 558.5L640.1 557.3L640.2 556.1L640.3 554.9L640.4 553.8L640.6 552.6L640.7 551.4L640.8 550.2L641.0 549.0L641.1 547.8L641.2 546.6L641.3 545.4L641.5 544.2L641.6 543.0L641.7 541.8L641.9 540.6L642.0 539.4L642.1 538.2L642.3 537.0L642.4 535.8L642.5 534.6L642.7 533.4L642.8 532.3L642.9 531.1L643.1 529.9L643.2 528.7L643.3 527.5L643.5 526.3L643.6 525.1L643.8 523.9L643.9 522.7L644.0 521.5L644.2 520.3L644.3 519.1L644.4 517.9L644.6 516.7L644.7 515.6L644.9 514.4L645.0 513.2L645.2 512.0L645.3 510.8L645.4 509.6L645.6 508.4L645.7 507.2L645.9 506.0L646.0 504.8L646.2 503.6L646.3 502.4L646.5 501.2L646.6 500.1L646.8 498.9L646.9 497.7L647.1 496.5L647.2 495.3L647.4 494.1L647.5 492.9L647.7 491.7L647.8 490.5L648.0 489.3L648.1 488.1L648.3 487.0L648.4 485.8L648.6 484.6L648.7 483.4L648.9 482.2L649.0 481.0L649.2 479.8L649.4 478.6L649.5 477.4L649.7 476.2L649.8 475.1L650.0 473.9L650.1 472.7L650.3 471.5L650.5 470.3L650.6 469.1L650.8 467.9L651.0 466.7L651.1 465.5L651.3 464.4L651.5 463.2L651.6 462.0L651.8 460.8L652.0 459.6L652.1 458.4L652.3 457.2L652.5 456.0L652.6 454.9L652.8 453.7L653.0 452.5L653.1 451.3L653.3 450.1L653.5 448.9L653.7 447.7L653.8 446.6L654.0 445.4L654.2 444.2L654.4 443.0L654.5 441.8L654.7 440.6L654.9 439.4L655.1 438.3L655.3 437.1L655.4 435.9L655.6 434.7L655.8 433.5L656.0 432.3L656.2 431.1L656.4 430.0L656.6 428.8L656.8 427.6L657.0 426.4L657.2 425.2L657.4 424.0L657.6 422.9L657.8 421.7L658.0 420.5L658.2 419.3L658.4 418.1L658.6 416.9L658.8 415.8L659.0 414.6L659.3 413.4L659.5 412.2L659.7 411.0L659.9 409.8L660.2 408.7L660.4 407.5L660.6 406.3L660.9 405.1L661.1 403.9L661.4 402.7L661.6 401.6L661.8 400.4L662.1 399.2L662.4 398.0L662.6 396.8L662.9 395.6L663.1 394.5L663.4 393.3L663.7 392.1L663.9 390.9L664.2 389.7L664.5 388.5L664.8 387.4L665.1 386.2L665.4 385.0L665.7 383.8L666.0 382.6L666.3 381.4L666.6 380.3L667.0 379.1L667.4 378.0L667.8 376.9L668.3 375.8L668.7 374.7L669.3 373.6L669.9 372.6L670.5 371.6L671.2 370.6L672.0 369.7L672.8 368.8L673.7 368.2L674.6 367.9L675.5 367.9L676.4 368.3L677.3 368.9L678.2 369.7L679.0 370.7L679.7 371.7L680.3 372.8L680.9 373.9L681.3 375.1L681.8 376.2L682.2 377.4L682.6 378.5L682.9 379.7L683.3 380.9L683.6 382.0L684.0 383.2L684.3 384.4L684.7 385.5L685.1 386.7L685.4 387.8L685.8 389.0L686.1 390.2L686.5 391.3L686.9 392.5L687.2 393.6L687.6 394.8L687.9 395.9L688.3 397.1L688.7 398.2L689.0 399.4L689.4 400.5L689.8 401.6L690.1 402.8L690.5 403.9L690.9 405.1L691.2 406.2L691.6 407.3L692.0 408.5L692.3 409.6L692.7 410.8L693.1 411.9L693.5 413.0L693.8 414.2L694.2 415.3L694.6 416.4L695.0 417.6L695.3 418.7L695.7 419.9L696.1 421.0L696.5 422.1L696.9 423.3L697.2 424.4L697.6 425.5L698.0 426.7L698.4 427.8L698.8 428.9L699.2 430.1L699.5 431.2L699.9 432.4L700.3 433.5L700.7 434.6L701.1 435.8L701.5 436.9L701.9 438.0L702.3 439.2L702.7 440.3L703.0 441.4L703.4 442.6L703.8 443.7L704.2 444.8L704.6 446.0L705.0 447.1L705.4 448.2L705.8 449.4L706.2 450.5L706.6 451.6L707.0 452.8L707.4 453.9L707.8 455.0L708.2 456.2L708.6 457.3L709.0 458.4L709.4 459.6L709.8 460.7L710.2 461.8L710.6 463.0L711.0 464.1L711.4 465.2L711.8 466.4L712.2 467.5L712.6 468.6L713.0 469.8L713.4 470.9L713.8 472.0L714.2 473.2L714.6 474.3L715.1 475.4L715.5 476.5L715.9 477.7L716.3 478.8L716.7 479.9L717.1 481.1L717.5 482.2L717.9 483.3L718.3 484.5L718.7 485.6L719.1 486.7L719.5 487.9L719.9 489.0L720.4 490.1L720.8 491.3L721.2 492.4L721.6 493.5L722.0 494.6L722.4 495.8L722.8 496.9L723.2 498.0L723.6 499.2L724.0 500.3L724.5 501.4L724.9 502.5L725.3 503.7L725.7 504.8L726.1 505.9L726.5 507.1L727.0 508.2L727.4 509.3L727.8 510.4L728.2 511.5L728.7 512.7L729.1 513.8L729.5 514.9L730.0 516.0L730.4 517.1L730.9 518.3L731.3 519.4L731.8 520.5L732.2 521.6L732.7 522.7L733.1 523.8L733.6 524.9L734.1 526.0L734.6 527.1L735.0 528.2L735.5 529.3L736.0 530.4L736.5 531.5L737.0 532.6L737.5 533.7L738.0 534.7L738.6 535.8L739.1 536.9L739.6 538.0L740.1 539.1L740.7 540.1L741.2 541.2L741.8 542.3L742.3 543.3L742.9 544.4L743.5 545.4L744.1 546.5L744.7 547.5L745.3 548.6L745.9 549.6L746.5 550.7L747.1 551.7"/>
<path stroke="#ff0000" d="M163.2 379.40H199.1"/>
<path stroke="#00ff00" stroke-dasharray="4.6 3.7" stroke-dashoffset="2" d="M163.3 412.88H199.1"/>
<path stroke="#0000ff" stroke-dasharray="2.1 2.07" stroke-dashoffset="-0.5" d="M163.3 446.36H199.1"/>
</g>
<g fill="none" stroke="#000" stroke-width="2.2">
<rect x="137.80" y="312.45" width="610.10" height="669.55"/>
<path d="M158.14 982.00V976.20M158.14 312.45V318.25M178.47 982.00V976.20M178.47 312.45V318.25M198.81 982.00V976.20M198.81 312.45V318.25M219.15 982.00V976.20M219.15 312.45V318.25M239.48 982.00V970.10M239.48 312.45V324.35M259.82 982.00V976.20M259.82 312.45V318.25M280.16 982.00V976.20M280.16 312.45V318.25M300.49 982.00V976.20M300.49 312.45V318.25M320.83 982.00V976.20M320.83 312.45V318.25M341.17 982.00V970.10M341.17 312.45V324.35M361.50 982.00V976.20M361.50 312.45V318.25M381.84 982.00V976.20M381.84 312.45V318.25M402.18 982.00V976.20M402.18 312.45V318.25M422.51 982.00V976.20M422.51 312.45V318.25M442.85 982.00V970.10M442.85 312.45V324.35M463.19 982.00V976.20M463.19 312.45V318.25M483.52 982.00V976.20M483.52 312.45V318.25M503.86 982.00V976.20M503.86 312.45V318.25M524.20 982.00V976.20M524.20 312.45V318.25M544.53 982.00V970.10M544.53 312.45V324.35M564.87 982.00V976.20M564.87 312.45V318.25M585.21 982.00V976.20M585.21 312.45V318.25M605.54 982.00V976.20M605.54 312.45V318.25M625.88 982.00V976.20M625.88 312.45V318.25M646.22 982.00V970.10M646.22 312.45V324.35M666.55 982.00V976.20M666.55 312.45V318.25M686.89 982.00V976.20M686.89 312.45V318.25M707.23 982.00V976.20M707.23 312.45V318.25M727.56 982.00V976.20M727.56 312.45V318.25M137.80 329.19H143.60M747.90 329.19H742.10M137.80 345.93H143.60M747.90 345.93H742.10M137.80 362.67H143.60M747.90 362.67H742.10M137.80 379.40H149.70M747.90 379.40H736.00M137.80 396.14H143.60M747.90 396.14H742.10M137.80 412.88H143.60M747.90 412.88H742.10M137.80 429.62H143.60M747.90 429.62H742.10M137.80 446.36H149.70M747.90 446.36H736.00M137.80 463.10H143.60M747.90 463.10H742.10M137.80 479.84H143.60M747.90 479.84H742.10M137.80 496.58H143.60M747.90 496.58H742.10M137.80 513.31H149.70M747.90 513.31H736.00M137.80 530.05H143.60M747.90 530.05H742.10M137.80 546.79H143.60M747.90 546.79H742.10M137.80 563.53H143.60M747.90 563.53H742.10M137.80 580.27H149.70M747.90 580.27H736.00M137.80 597.01H143.60M747.90 597.01H742.10M137.80 613.75H143.60M747.90 613.75H742.10M137.80 630.49H143.60M747.90 630.49H742.10M137.80 647.22H149.70M747.90 647.22H736.00M137.80 663.96H143.60M747.90 663.96H742.10M137.80 680.70H143.60M747.90 680.70H742.10M137.80 697.44H143.60M747.90 697.44H742.10M137.80 714.18H149.70M747.90 714.18H736.00M137.80 730.92H143.60M747.90 730.92H742.10M137.80 747.66H143.60M747.90 747.66H742.10M137.80 764.40H143.60M747.90 764.40H742.10M137.80 781.13H149.70M747.90 781.13H736.00M137.80 797.87H143.60M747.90 797.87H742.10M137.80 814.61H143.60M747.90 814.61H742.10M137.80 831.35H143.60M747.90 831.35H742.10M137.80 848.09H149.70M747.90 848.09H736.00M137.80 864.83H143.60M747.90 864.83H742.10M137.80 881.57H143.60M747.90 881.57H742.10M137.80 898.31H143.60M747.90 898.31H742.10M137.80 915.05H149.70M747.90 915.05H736.00M137.80 931.78H143.60M747.90 931.78H742.10M137.80 948.52H143.60M747.90 948.52H742.10M137.80 965.26H143.60M747.90 965.26H742.10"/>
</g>
<g class="t" text-anchor="end">
<text x="110.6" y="322.4">1</text>
<text x="110.6" y="389.4">0.8</text>
<text x="110.6" y="456.4">0.6</text>
<text x="110.6" y="523.3">0.4</text>
<text x="110.6" y="590.3">0.2</text>
<text x="110.6" y="657.2">0</text>
<text x="110.6" y="724.2">-0.2</text>
<text x="110.6" y="791.1">-0.4</text>
<text x="110.6" y="858.1">-0.6</text>
<text x="110.6" y="925.0">-0.8</text>
<text x="110.6" y="992.0">-1</text>
</g>
<g class="t" text-anchor="middle">
<text x="137.8" y="1021">0</text>
<text x="239.5" y="1021">100</text>
<text x="341.2" y="1021">200</text>
<text x="442.8" y="1021">300</text>
<text x="544.5" y="1021">400</text>
<text x="646.2" y="1021">500</text>
<text x="747.9" y="1021">600</text>
</g>
<g fill="#fff" stroke="none">
<rect x="95.50" y="318.40" width="6.71" height="4.90"/><rect x="104.87" y="318.40" width="6.13" height="4.90"/>
<rect x="95.50" y="988.40" width="6.71" height="4.90"/><rect x="104.87" y="988.40" width="6.13" height="4.90"/>
<rect x="216.50" y="1017.40" width="6.85" height="4.90"/><rect x="226.28" y="1017.40" width="5.12" height="4.90"/>
</g>
<g style="font-size:26.8px">
<text x="221.3" y="388.4" style="fill:#f00;stroke:#f00">RMSGA</text>
<text x="221.3" y="422.2" style="fill:#0f0;stroke:#0f0">NRMSGA</text>
<text x="221.3" y="455.9" style="fill:#00f;stroke:#00f">RPWIA</text>
</g>
<g transform="translate(0 949.2) scale(1 1.035)" style="font-size:42px">
<text class="s" x="156.3" y="0">Q<tspan dy="-22.4" style="font-size:28.5px">2</tspan></text>
<text class="s" x="207.4" y="1.8" style="stroke-width:1.0px;font-size:43px">=</text>
<text class="s" x="231.1" y="0">1.88 (GeV)<tspan dx="-0.6" dy="-22.2" style="font-size:28.5px">2</tspan></text>
</g>
<text x="356.1" y="1061.2" style="font-size:37.5px">p<tspan dy="11.7" style="font-size:25.5px">m</tspan><tspan dy="-11.7">(MeV/c)</tspan></text>
<text transform="translate(59.1 674.2) rotate(-90)" style="font-size:37.5px">A<tspan dx="-0.6" dy="12.7" style="font-size:28px">LT</tspan></text>
</svg>
</body></html>
